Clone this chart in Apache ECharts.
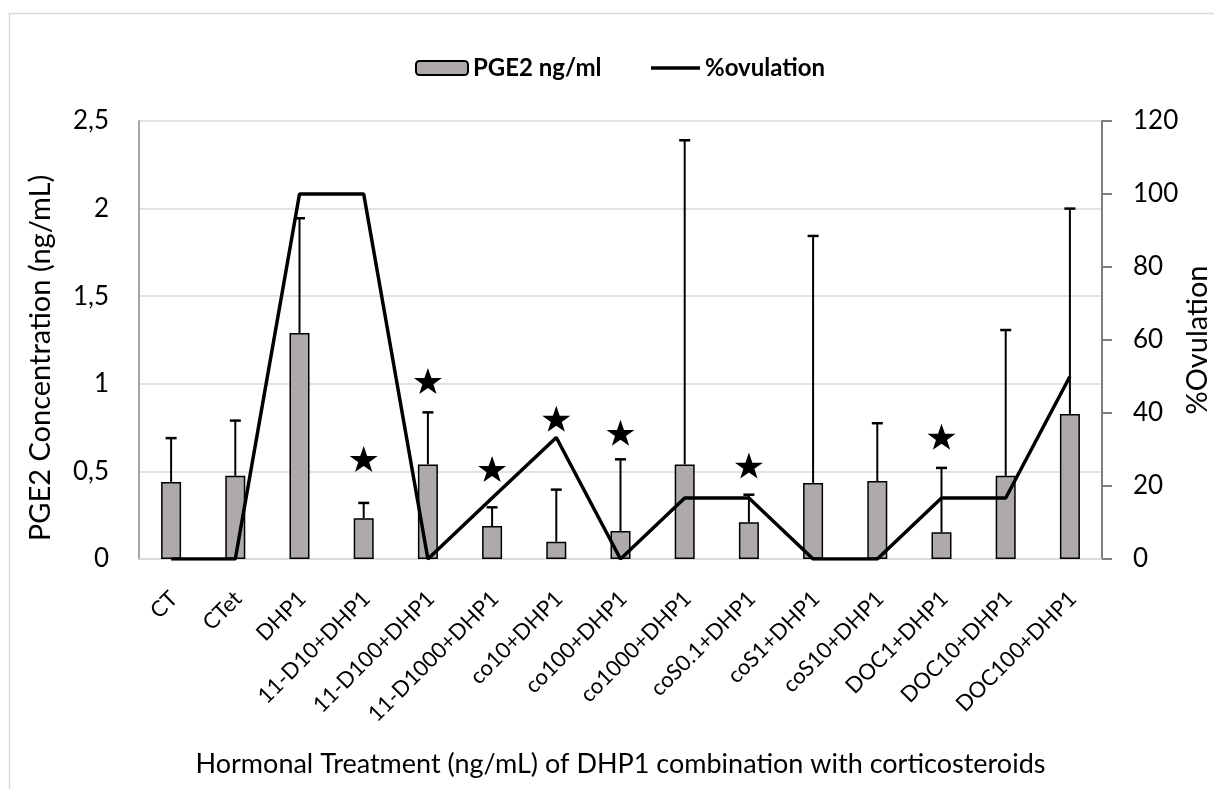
<!DOCTYPE html>
<html>
<head>
<meta charset="utf-8">
<script src="https://cdn.jsdelivr.net/npm/echarts@6/dist/echarts.min.js"></script>
<style>
html,body{margin:0;padding:0;background:#fff;}
#c{width:1214px;height:789px;}
</style>
</head>
<body>
<div id="c"></div>
<script>
const categories = ['CT','CTet','DHP1','11-D10+DHP1','11-D100+DHP1','11-D1000+DHP1','co10+DHP1','co100+DHP1','co1000+DHP1','coS0.1+DHP1','coS1+DHP1','coS10+DHP1','DOC1+DHP1','DOC10+DHP1','DOC100+DHP1'];
const pge2 = [0.44,0.475,1.29,0.232,0.54,0.188,0.099,0.16,0.54,0.21,0.434,0.445,0.152,0.475,0.828];
const pge2ErrTop = [0.69,0.79,1.945,0.32,0.837,0.295,0.396,0.569,2.39,0.367,1.844,0.775,0.52,1.307,2.0];
const ovulation = [0,0,100,100,0,16.7,33.3,0,16.7,16.7,0,0,16.7,16.7,50];
const starLevel = [null,null,null,0.571,1.016,0.514,0.8,0.72,null,0.533,null,null,0.698,null,null];
const leftTicks = ['0','0,5','1','1,5','2','2,5'];

const FONT = 'Lato, "Open Sans", sans-serif';
const chart = echarts.init(document.getElementById('c'));
const starPath = 'path://M50,0 L61.8,35.1 L97.6,35.1 L68.8,56.7 L79.4,91 L50,70 L20.6,91 L31.2,56.7 L2.4,35.1 L38.2,35.1 Z';
const legendText = {fontFamily:FONT,fontWeight:'bold',fontSize:24,color:'#000'};

chart.setOption({
  animation:false,
  backgroundColor:'#fff',
  textStyle:{fontFamily:FONT},
  graphic:[{type:'rect',shape:{x:9.5,y:13.5,width:1230,height:800},style:{fill:'none',stroke:'#d9d9d9',lineWidth:1.5},silent:true,z:-1}],
  legend:[{
    top:51,left:410,itemWidth:52,itemHeight:14,itemGap:6,
    textStyle:legendText,
    data:['PGE2 ng/ml']
  },{
    top:51,left:646,itemWidth:49,itemHeight:3.5,
    textStyle:legendText,
    data:[{name:'%ovulation',icon:'rect',itemStyle:{color:'#000'}}]
  }],
  grid:{left:139,right:112,top:121,bottom:230,containLabel:false,outerBoundsMode:'none'},
  xAxis:{
    type:'category',data:categories,
    axisLine:{show:true,lineStyle:{color:'#d9d9d9',width:1.5}},
    axisTick:{show:false},
    axisLabel:{rotate:45,fontSize:22,color:'#000',margin:39,padding:[0,-4,0,0],interval:0,fontFamily:FONT},
    name:'Hormonal Treatment (ng/mL) of DHP1 combination with corticosteroids',
    nameLocation:'middle',nameGap:192,nameMoveOverlap:false,
    nameTextStyle:{fontSize:27,color:'#000',fontFamily:FONT}
  },
  yAxis:[{
    type:'value',min:0,max:2.5,interval:0.5,
    axisLine:{show:true,lineStyle:{color:'#a6a6a6',width:2}},
    axisTick:{show:false},
    splitLine:{lineStyle:{color:'#d9d9d9',width:1.5}},
    axisLabel:{fontSize:26,color:'#000',margin:30,fontFamily:FONT,
      formatter:function(v){return leftTicks[Math.round(v/0.5)];}},
    name:'PGE2 Concentration (ng/mL)',nameLocation:'middle',nameGap:84,nameMoveOverlap:false,
    nameTextStyle:{fontSize:29,color:'#000',fontFamily:FONT,padding:[0,36,0,0]}
  },{
    type:'value',min:0,max:120,interval:20,position:'right',
    axisLine:{show:true,lineStyle:{color:'#7f7f7f',width:2}},
    axisTick:{show:true,inside:false,length:10,lineStyle:{color:'#7f7f7f',width:2}},
    splitLine:{show:false},
    axisLabel:{fontSize:26,color:'#000',margin:31,fontFamily:FONT},
    name:'%Ovulation',nameLocation:'middle',nameGap:81,nameMoveOverlap:false,
    nameTextStyle:{fontSize:29,color:'#000',fontFamily:FONT}
  }],
  series:[{
    name:'PGE2 ng/ml',type:'bar',data:pge2,barWidth:20,z:2,
    itemStyle:{color:'#aeaaaa',borderColor:'#000',borderWidth:1.5}
  },{
    name:'err',type:'custom',z:3,
    data:pge2.map((v,i)=>[i,v,pge2ErrTop[i]]),
    encode:{x:0,y:[1,2]},
    renderItem:function(params,api){
      const p1=api.coord([api.value(0),api.value(1)]);
      const p2=api.coord([api.value(0),api.value(2)]);
      const w=11;
      return {type:'group',children:[
        {type:'line',shape:{x1:p1[0],y1:p1[1],x2:p2[0],y2:p2[1]},style:{stroke:'#000',lineWidth:2}},
        {type:'line',shape:{x1:p2[0]-w/2,y1:p2[1],x2:p2[0]+w/2,y2:p2[1]},style:{stroke:'#000',lineWidth:2.5}}
      ]};
    }
  },{
    name:'%ovulation',type:'line',yAxisIndex:1,data:ovulation,z:4,
    symbol:'none',lineStyle:{color:'#000',width:3.5},itemStyle:{color:'#000'}
  },{
    name:'stars',type:'scatter',data:starLevel,z:5,
    symbol:starPath,symbolSize:[28,26],symbolKeepAspect:false,
    itemStyle:{color:'#000',opacity:1}
  }]
});
</script>
</body>
</html>
